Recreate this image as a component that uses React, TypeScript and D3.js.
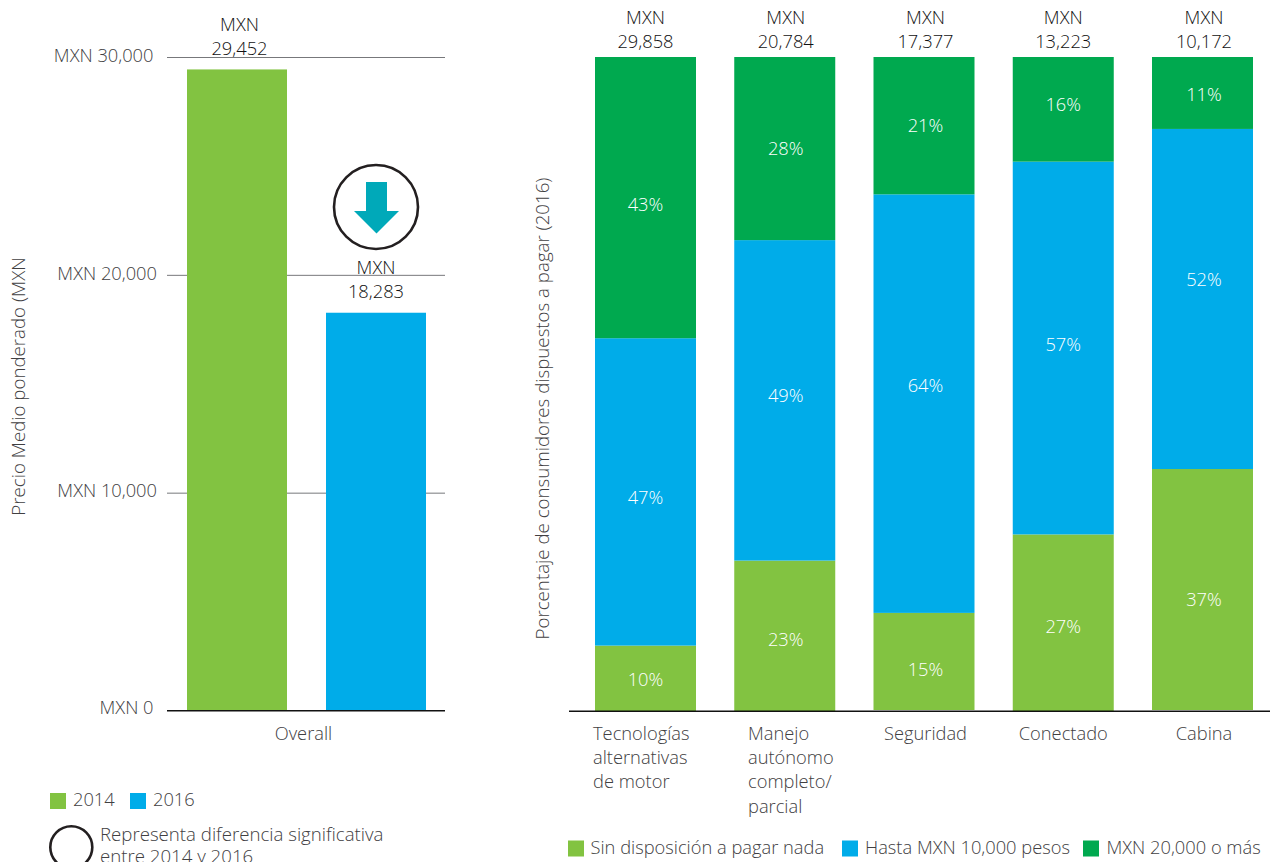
import React from "react";
import * as d3 from "d3";

const years = ["2014", "2016"];
const overallValues = [29452, 18283];
const overallLabels = ["29,452", "18,283"];
const priceTicks = [0, 10000, 20000, 30000];
const priceTickLabels = ["MXN 0", "MXN 10,000", "MXN 20,000", "MXN 30,000"];

const features = ["Tecnologías", "Manejo", "Seguridad", "Conectado", "Cabina"];
const featureLines = [
  ["Tecnologías", "alternativas", "de motor"],
  ["Manejo", "autónomo", "completo/", "parcial"],
  ["Seguridad"],
  ["Conectado"],
  ["Cabina"],
];
const featurePrices = ["29,858", "20,784", "17,377", "13,223", "10,172"];
const nothing = [10, 23, 15, 27, 37];
const upTo10k = [47, 49, 64, 57, 52];
const over20k = [43, 28, 21, 16, 11];
const tiers = ["Sin disposición a pagar nada", "Hasta MXN 10,000 pesos", "MXN 20,000 o más"];

const GREEN = "#82C341";
const BLUE = "#00ACE9";
const DARK_GREEN = "#00A94F";
const TEAL = "#00A9B9";
const FONT = "'Open Sans', sans-serif";
const LABEL = "#414042";
const VALUE = "#111111";
const SIZE = 18.3;

// Hand placement of the percentage labels inside their segments (per layer, per column).
const segmentLabelShift = [
  [1, 4, 8, 3.5, 9],
  [6, -5, -18, -4, -19],
  [7, 0, 0, -5, 2],
];
const columnLabelShift = [0, 1, 1.5, 0, 1.5];
const columnBaseInset = [0, 0, 1, 0, 1];

const yPrice = d3.scaleLinear().domain([0, 30000]).range([711, 57.5]);
const xYear = d3.scaleBand().domain(years).range([187, 426]).paddingInner(0.2806);
const yShare = d3.scaleLinear().domain([0, 100]).range([711, 57]);
const xFeature = d3.scaleBand().domain(features).range([595, 1253]).paddingInner(0.2747);

const stacked = d3
  .stack<number>()
  .keys(["nothing", "upTo10k", "over20k"])
  .value((i, key) => ({ nothing, upTo10k, over20k } as Record<string, number[]>)[key][i])(
  features.map((_, i) => i)
);
const stackColors = [GREEN, BLUE, DARK_GREEN];

function Txt(props: React.SVGProps<SVGTextElement>) {
  return <text fontFamily={FONT} fontWeight={300} fontSize={SIZE} fill={LABEL} {...props} />;
}

export default function App() {
  return (
    <svg
      width={1270}
      height={862}
      style={{ position: "absolute", left: 0, top: 0, display: "block", background: "#fff" }}
    >
      {/* Left panel: overall weighted price */}
      {priceTicks.slice(1).map((t) => (
        <line key={t} x1={167} x2={445} y1={yPrice(t)} y2={yPrice(t)} stroke="#77787B" strokeWidth={1} />
      ))}
      {years.map((yr, i) => (
        <rect
          key={yr}
          x={xYear(yr)}
          y={yPrice(overallValues[i])}
          width={xYear.bandwidth()}
          height={yPrice(0) - yPrice(overallValues[i])}
          fill={i === 0 ? GREEN : BLUE}
        />
      ))}
      <line x1={167} x2={445} y1={710.8} y2={710.8} stroke="#111" strokeWidth={1.6} />
      {priceTicks.map((t, i) => (
        <Txt key={t} x={i === 0 || i === 3 ? 153.5 : 157} y={yPrice(t) + (i === 0 ? 3 : 4.2)} textAnchor="end">
          {priceTickLabels[i]}
        </Txt>
      ))}
      {years.map((yr, i) => {
        const cx = xYear(yr)! + xYear.bandwidth() / 2 + (i === 0 ? 2.5 : 0);
        const top = yPrice(overallValues[i]);
        return (
          <g key={yr}>
            <Txt x={cx} y={top - 38.7} textAnchor="middle" fill={VALUE}>MXN</Txt>
            <Txt x={cx} y={top - 14.7} textAnchor="middle" fill={VALUE}>{overallLabels[i]}</Txt>
          </g>
        );
      })}
      <Txt x={303.5} y={740} textAnchor="middle">Overall</Txt>
      <Txt transform="translate(25,386.5) rotate(-90)" textAnchor="middle" fontSize={18.7}>
        Precio Medio ponderado (MXN
      </Txt>

      {/* Significant decrease marker */}
      <circle cx={376} cy={207} r={42} fill="none" stroke="#231F20" strokeWidth={2.6} />
      <path
        d={d3.line()([[366, 182], [387, 182], [387, 211], [399, 211], [376.5, 233.5], [354, 211], [366, 211]])! + "Z"}
        fill={TEAL}
      />

      {/* Left legend */}
      {years.map((yr, i) => (
        <g key={yr}>
          <rect x={50 + i * 80} y={793} width={16} height={16} fill={i === 0 ? GREEN : BLUE} />
          <Txt x={73 + i * 80} y={806}>{yr}</Txt>
        </g>
      ))}
      <circle cx={71.3} cy={847.3} r={21} fill="none" stroke="#231F20" strokeWidth={2.6} />
      <Txt x={100} y={841} fontSize={18.65}>Representa diferencia significativa</Txt>
      <Txt x={100} y={862.5} fontSize={18.65}>entre 2014 y 2016</Txt>

      {/* Right panel: willingness to pay by feature */}
      <Txt transform="translate(549,408.5) rotate(-90)" textAnchor="middle" fontSize={18.7}>
        Porcentaje de consumidores dispuestos a pagar (2016)
      </Txt>
      {stacked.map((layer, s) =>
        layer.map((d, i) => {
          const inset = s === 0 ? columnBaseInset[i] : 0;
          return (
            <g key={`${s}-${i}`}>
              <rect
                x={xFeature(features[i])}
                y={yShare(d[1])}
                width={xFeature.bandwidth()}
                height={yShare(d[0]) - yShare(d[1]) - inset}
                fill={stackColors[s]}
              />
              <Txt
                x={xFeature(features[i])! + xFeature.bandwidth() / 2 + columnLabelShift[i]}
                y={yShare((d[0] + d[1]) / 2) + 6.5 + segmentLabelShift[s][i]}
                textAnchor="middle"
                fill="#fff"
              >
                {d[1] - d[0]}%
              </Txt>
            </g>
          );
        })
      )}
      <line x1={569} x2={1270} y1={711.3} y2={711.3} stroke="#111" strokeWidth={1.4} />
      {features.map((f, i) => {
        const cx = xFeature(f)! + xFeature.bandwidth() / 2 + columnLabelShift[i];
        const wrapped = featureLines[i].length > 1;
        return (
          <g key={f}>
            <Txt x={cx} y={24} textAnchor="middle" fill={VALUE}>MXN</Txt>
            <Txt x={cx} y={48} textAnchor="middle" fill={VALUE}>{featurePrices[i]}</Txt>
            {featureLines[i].map((line, j) => (
              <Txt
                key={line}
                x={wrapped ? [593, 748][i] : cx}
                y={740 + j * 24.2}
                textAnchor={wrapped ? "start" : "middle"}
              >
                {line}
              </Txt>
            ))}
          </g>
        );
      })}

      {/* Right legend */}
      {tiers.map((tier, i) => (
        <g key={tier}>
          <rect x={[568, 842, 1083][i]} y={840.5} width={16} height={16} fill={stackColors[i]} />
          <Txt x={[590.5, 865, 1106.5][i]} y={854}>{tier}</Txt>
        </g>
      ))}
    </svg>
  );
}
